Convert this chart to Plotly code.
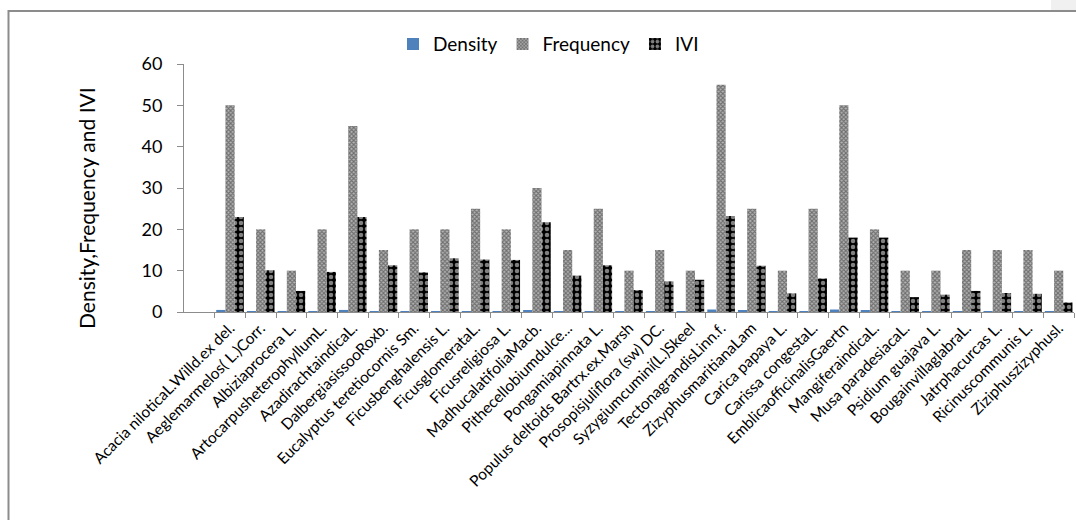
import plotly.graph_objects as go

species = [
    "Acacia niloticaL.Willd.ex del.",
    "Aeglemarmelos( L.)Corr.",
    "Albiziaprocera L.",
    "ArtocarpusheterophyllumL.",
    "AzadirachtaindicaL.",
    "DalbergiasissooRoxb.",
    "Eucalyptus teretiocornis Sm.",
    "Ficusbenghalensis L.",
    "FicusglomerataL.",
    "Ficusreligiosa L.",
    "MadhucalatifoliaMacb.",
    "Pithecellobiumdulce...",
    "Pongamiapinnata L.",
    "Populus deltoids Bartrx.ex.Marsh",
    "Prosopisjuliflora (sw) DC.",
    "Syzygiumcumini(L.)Skeel",
    "TectonagrandisLinn.f.",
    "ZizyphusmaritianaLam",
    "Carica papaya L.",
    "Carissa congestaL.",
    "EmblicaofficinalisGaertn",
    "MangiferaindicaL.",
    "Musa paradesiacaL.",
    "Psidium guajava L.",
    "BougainvillaglabraL.",
    "Jatrphacurcas L.",
    "Ricinuscommunis L.",
    "Ziziphuszizyphusl.",
]

density = [0.5, 0.2, 0.1, 0.2, 0.5, 0.2, 0.2, 0.1, 0.2, 0.1, 0.3, 0.1, 0.2, 0.1,
           0.2, 0.1, 0.6, 0.3, 0.1, 0.2, 0.6, 0.3, 0.1, 0.1, 0.05, 0.1, 0.05, 0.05]
frequency = [50, 20, 10, 20, 45, 15, 20, 20, 25, 20, 30, 15, 25, 10,
             15, 10, 55, 25, 10, 25, 50, 20, 10, 10, 15, 15, 15, 10]
ivi = [23.0, 10.1, 5.1, 9.7, 23.0, 11.3, 9.6, 13.0, 12.7, 12.6, 21.7, 8.8, 11.3, 5.3,
       7.4, 7.8, 23.2, 11.2, 4.5, 8.1, 18.0, 18.0, 3.6, 4.2, 5.1, 4.6, 4.4, 2.3]

y_ticks = [0, 10, 20, 30, 40, 50, 60]

FONT = "Lato, 'Open Sans', sans-serif"
AXIS_GRAY = "#8c8c8c"

fig = go.Figure()
fig.add_trace(go.Bar(
    name="Density", x=species, y=density,
    marker=dict(color="#4F81BD", line=dict(width=0)),
))
fig.add_trace(go.Bar(
    name="Frequency", x=species, y=frequency,
    marker=dict(color="#6a6a6a", line=dict(width=0),
                pattern=dict(shape="x", fgcolor="#2a2a2a", bgcolor="#b4b4b4",
                             size=3, solidity=0.6)),
))
fig.add_trace(go.Bar(
    name="IVI", x=species, y=ivi,
    marker=dict(color="black", line=dict(width=0),
                pattern=dict(shape=".", fgcolor="white", bgcolor="black",
                             size=6, solidity=0.45)),
))

fig.update_layout(
    width=1076, height=520,
    margin=dict(l=184, r=2, t=64, b=208, autoexpand=False),
    paper_bgcolor="white", plot_bgcolor="white",
    barmode="group", bargap=0.1, bargroupgap=0,
    font=dict(family=FONT, color="black"),
    showlegend=True,
    legend=dict(orientation="h", x=(393 - 184) / 890, xanchor="left", y=1.08, yanchor="middle",
                font=dict(size=19, family=FONT), bgcolor="rgba(0,0,0,0)",
                itemwidth=30, traceorder="normal"),
    xaxis=dict(
        type="category", range=[-1.5, len(species) - 0.5],
        showline=True, linecolor=AXIS_GRAY, linewidth=1,
        ticks="outside", tickson="boundaries", ticklen=5, tickcolor=AXIS_GRAY,
        tickangle=-45, tickfont=dict(size=15.5, family=FONT),
        showgrid=False, zeroline=False,
    ),
    yaxis=dict(
        range=[0, 60], tickvals=y_ticks,
        showline=True, linecolor=AXIS_GRAY, linewidth=1,
        ticks="outside", ticklen=6, tickcolor=AXIS_GRAY,
        ticklabelstandoff=11,
        tickfont=dict(size=18, family=FONT),
        showgrid=False, zeroline=False,
    ),
    annotations=[dict(
        text="Density,Frequency and IVI", textangle=-90,
        xref="paper", yref="paper", x=(87 - 184) / 890, y=(312 - 208) / 248,
        xanchor="center", yanchor="middle", showarrow=False,
        font=dict(size=21, family=FONT, color="black"),
    )],
    shapes=[
        dict(type="rect", xref="paper", yref="paper",
             x0=(8.5 - 184) / 890, x1=(1100 - 184) / 890,
             y0=(312 - 540) / 248, y1=(312 - 11) / 248,
             line=dict(color=AXIS_GRAY, width=2), fillcolor="rgba(0,0,0,0)", layer="below"),
        dict(type="rect", xref="paper", yref="paper",
             x0=(1051 - 184) / 890, x1=(1080 - 184) / 890,
             y0=(312 - 10) / 248, y1=(312 + 5) / 248,
             line=dict(width=0), fillcolor="#f0f0f0", layer="below"),
    ],
)

fig.write_html(
    "out.html",
    config={"displayModeBar": False},
    post_script=(
        "document.documentElement.style.margin='0';"
        "document.documentElement.style.overflow='hidden';"
        "document.body.style.margin='0';"
        "document.body.style.padding='0';"
        "document.body.style.overflow='hidden';"
    ),
)
